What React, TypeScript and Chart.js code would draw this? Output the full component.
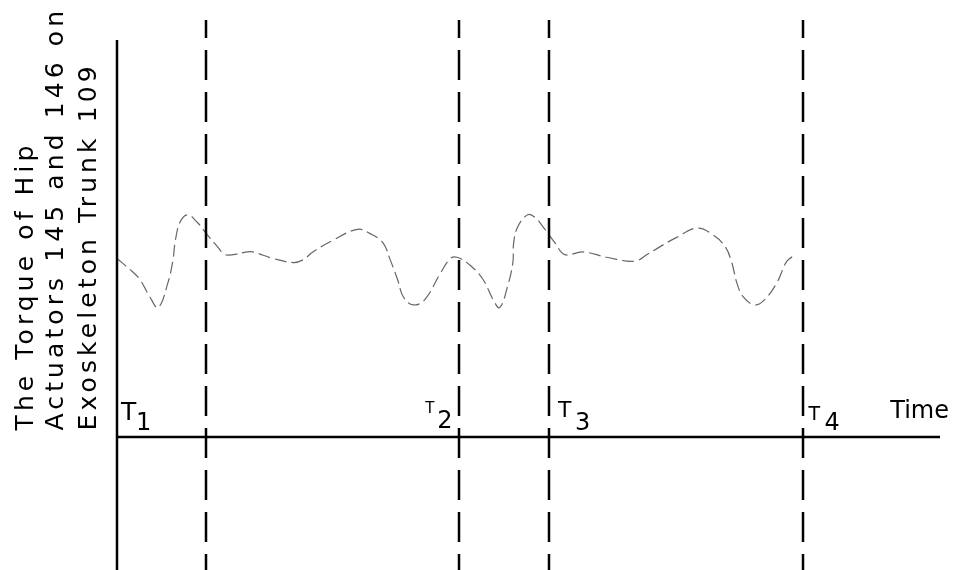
import React, { useEffect, useRef } from "react";
import { Chart, registerables } from "chart.js";

Chart.register(...registerables);

// Time axis (arbitrary units) and torque (arbitrary units)
const TIME: number[] = [
  0, 1.9, 2.8, 4.0, 5.0, 6.2, 6.8, 7.1, 7.7, 8.6, 9.8, 10.7, 12.2, 13.1, 14.1, 15.8, 16.5,
  19.0, 21.4, 22.6, 23.8, 26.3, 29.2, 30.7, 32.3, 33.2, 34.1, 34.8, 36.0, 37.4, 39.3, 40.5,
  41.3, 42.9, 44.5, 45.7, 46.5, 47.5, 48.1, 48.2, 48.7, 49.9, 50.8, 52.0, 53.2, 54.4, 56.6,
  59.5, 62.9, 64.4, 66.0, 68.0, 70.5, 72.4, 73.9, 74.7, 75.3, 76.1, 77.5, 78.7, 80.2, 81.4,
  82.5,
];
const TORQUE: number[] = [
  1.35, 1.25, 1.19, 1.06, 0.98, 1.17, 1.34, 1.49, 1.63, 1.68, 1.62, 1.55, 1.44, 1.38, 1.38,
  1.40, 1.40, 1.35, 1.32, 1.34, 1.40, 1.49, 1.57, 1.54, 1.47, 1.34, 1.19, 1.06, 1.00, 1.04,
  1.24, 1.35, 1.36, 1.30, 1.19, 1.04, 0.98, 1.15, 1.32, 1.47, 1.59, 1.68, 1.66, 1.57, 1.47,
  1.38, 1.40, 1.36, 1.33, 1.38, 1.44, 1.51, 1.58, 1.53, 1.44, 1.32, 1.17, 1.06, 1.00, 1.04,
  1.17, 1.33, 1.38,
];
// Vertical dashed time markers
const MARKS: number[] = [10.8, 41.6, 52.5, 83.4];
// T labels: anchor time and subscript
const T_ANCHORS: number[] = [0, 41.6, 52.5, 83.4];
const T_SUBS: string[] = ["1", "2", "3", "4"];
const X_LABEL = "Time";
const Y_TITLE: string[] = [
  "The Torque of Hip",
  "Actuators 145 and 146 on",
  "Exoskeleton Trunk 109",
];

const X_MIN = 0;
const X_MAX = 100;
const Y_MIN = -1;
const Y_MAX = 3.15;
const Y_AXIS_TOP = 3.0;

const FONT = '"DejaVu Sans", sans-serif';

const overlay = {
  id: "patentOverlay",
  afterDatasetsDraw(chart: any) {
    const ctx: CanvasRenderingContext2D = chart.ctx;
    const xs = chart.scales.x;
    const ys = chart.scales.y;
    const area = chart.chartArea;
    const x0 = xs.getPixelForValue(0);
    const y0 = ys.getPixelForValue(0);
    ctx.save();
    ctx.strokeStyle = "#000";
    ctx.lineCap = "butt";

    // dashed vertical markers
    ctx.lineWidth = 2.5;
    ctx.setLineDash([30, 12]);
    ctx.lineDashOffset = 12;
    MARKS.forEach((m) => {
      const px = Math.round(xs.getPixelForValue(m));
      ctx.beginPath();
      ctx.moveTo(px, area.top);
      ctx.lineTo(px, area.bottom);
      ctx.stroke();
    });
    ctx.setLineDash([]);
    ctx.lineDashOffset = 0;

    // axes
    ctx.lineWidth = 2.5;
    ctx.beginPath();
    ctx.moveTo(Math.round(x0), ys.getPixelForValue(Y_AXIS_TOP));
    ctx.lineTo(Math.round(x0), area.bottom);
    ctx.stroke();
    ctx.beginPath();
    ctx.moveTo(x0, Math.round(y0));
    ctx.lineTo(area.right, Math.round(y0));
    ctx.stroke();

    // T labels
    ctx.fillStyle = "#000";
    ctx.textBaseline = "alphabetic";
    ctx.textAlign = "left";
    const specs = [
      { dx: 4, tSize: 25, tBase: -17, sdx: 19, sBase: -7 },
      { dx: -34, tSize: 15, tBase: -24, sdx: -22, sBase: -9 },
      { dx: 9, tSize: 22, tBase: -20, sdx: 26, sBase: -7 },
      { dx: 5, tSize: 19, tBase: -17, sdx: 21, sBase: -7 },
    ];
    T_ANCHORS.forEach((a, i) => {
      const px = xs.getPixelForValue(a);
      const s = specs[i];
      ctx.font = `${s.tSize}px ${FONT}`;
      ctx.fillText("T", px + s.dx, y0 + s.tBase);
      ctx.font = `24px ${FONT}`;
      ctx.fillText(T_SUBS[i], px + s.sdx, y0 + s.sBase);
    });

    // Time label
    ctx.font = `24px ${FONT}`;
    ctx.textAlign = "right";
    ctx.fillText(X_LABEL, area.right + 9, y0 - 19);

    // Y title (rotated)
    ctx.font = `25px ${FONT}`;
    (ctx as any).letterSpacing = "4.1px";
    ctx.textAlign = "left";
    const baselines = [33, 63, 96];
    Y_TITLE.forEach((line, i) => {
      ctx.save();
      ctx.translate(baselines[i], y0 - 7);
      ctx.rotate(-Math.PI / 2);
      ctx.fillText(line, 0, 0);
      ctx.restore();
    });
    (ctx as any).letterSpacing = "0px";
    ctx.restore();
  },
};

export default function App() {
  const ref = useRef<HTMLCanvasElement | null>(null);
  useEffect(() => {
    if (!ref.current) return;
    const chart = new Chart(ref.current, {
      type: "line",
      data: {
        datasets: [
          {
            data: TIME.map((t, i) => ({ x: t, y: TORQUE[i] })),
            borderColor: "#666",
            borderWidth: 1.2,
            borderDash: [12, 5],
            pointRadius: 0,
            tension: 0.4,
            fill: false,
          },
        ],
      },
      options: {
        animation: false,
        responsive: true,
        maintainAspectRatio: false,
        layout: { padding: { left: 117, right: 14, top: 20, bottom: 0 } },
        plugins: {
          legend: { display: false },
          tooltip: { enabled: false },
          title: { display: false },
        },
        scales: {
          x: { type: "linear", min: X_MIN, max: X_MAX, display: false },
          y: { type: "linear", min: Y_MIN, max: Y_MAX, display: false },
        },
      },
      plugins: [overlay],
    });
    return () => chart.destroy();
  }, []);
  return (
    <div
      style={{
        position: "fixed",
        left: 0,
        top: 0,
        width: "954px",
        height: "570px",
        background: "#fff",
      }}
    >
      <canvas ref={ref} />
    </div>
  );
}
